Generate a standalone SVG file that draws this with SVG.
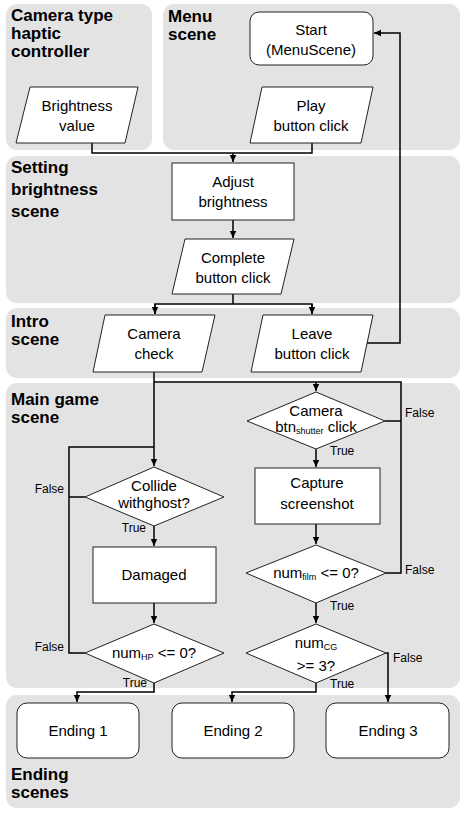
<svg xmlns="http://www.w3.org/2000/svg" width="466" height="813" viewBox="0 0 466 813">
<style>
.panel{fill:#e3e3e3;stroke:none}
.node{fill:#fff;stroke:#222;stroke-width:1}
.lbl{font-family:"Liberation Sans",Arial,sans-serif;font-weight:bold;font-size:17px;fill:#000}
.t{font-family:"Liberation Sans",Arial,sans-serif;font-size:15px;fill:#000;text-anchor:middle}
.s{font-family:"Liberation Sans",Arial,sans-serif;font-size:12px;fill:#000}
.c{fill:none;stroke:#000;stroke-width:1.5}
</style>
<defs>
<marker id="arr" markerWidth="8" markerHeight="8" refX="7" refY="4" orient="auto" markerUnits="userSpaceOnUse"><path d="M0,0.8 L7,4 L0,7.2 z" fill="#000"/></marker>
</defs>
<g id="panels">
<rect class="panel" x="6" y="4" width="146" height="146" rx="11"/>
<rect class="panel" x="163" y="4" width="297" height="146" rx="11"/>
<rect class="panel" x="6" y="156" width="454" height="147" rx="11"/>
<rect class="panel" x="6" y="308" width="454" height="70" rx="11"/>
<rect class="panel" x="6" y="383" width="454" height="305" rx="11"/>
<rect class="panel" x="6" y="695" width="454" height="113" rx="11"/>
<text class="lbl" x="11" y="21">Camera type</text>
<text class="lbl" x="11" y="39">haptic</text>
<text class="lbl" x="11" y="57">controller</text>
<text class="lbl" x="168" y="22">Menu</text>
<text class="lbl" x="168" y="40">scene</text>
<text class="lbl" x="11" y="173">Setting</text>
<text class="lbl" x="11" y="195">brightness</text>
<text class="lbl" x="11" y="217">scene</text>
<text class="lbl" x="11" y="327">Intro</text>
<text class="lbl" x="11" y="345">scene</text>
<text class="lbl" x="11" y="405">Main game</text>
<text class="lbl" x="11" y="423">scene</text>
<text class="lbl" x="11" y="780">Ending</text>
<text class="lbl" x="11" y="798">scenes</text>
</g>
<g id="connectors">
<path class="c" d="M92,143 V153 H312 V143"/>
<path class="c" d="M233,153 V162" marker-end="url(#arr)"/>
<path class="c" d="M233,220 V238" marker-end="url(#arr)"/>
<path class="c" d="M233,294 V304"/>
<path class="c" d="M155,314 V304 H312 V314"/>
<path class="c" d="M155,304 V314" marker-end="url(#arr)"/>
<path class="c" d="M312,304 V314" marker-end="url(#arr)"/>
<path class="c" d="M367,343 H400 V33 H374" marker-end="url(#arr)"/>
<path class="c" d="M154,372 V466" marker-end="url(#arr)"/>
<path class="c" d="M154,382 H401 V573 H386"/>
<path class="c" d="M316,382 V391" marker-end="url(#arr)"/>
<path class="c" d="M385,421 H401"/>
<path class="c" d="M316,449 V467" marker-end="url(#arr)"/>
<path class="c" d="M316,524 V544" marker-end="url(#arr)"/>
<path class="c" d="M316,603 V623" marker-end="url(#arr)"/>
<path class="c" d="M85,497 H69"/>
<path class="c" d="M85,653 H69 V447 H154"/>
<path class="c" d="M154,526 V546" marker-end="url(#arr)"/>
<path class="c" d="M154,603 V623" marker-end="url(#arr)"/>
<path class="c" d="M154,683 V692 H77 V702" marker-end="url(#arr)"/>
<path class="c" d="M316,683 V692 H232 V702" marker-end="url(#arr)"/>
<path class="c" d="M386,653 H388 V702" marker-end="url(#arr)"/>
<text class="s" x="64" y="493" text-anchor="end">False</text>
<text class="s" x="146" y="532" text-anchor="end">True</text>
<text class="s" x="64" y="651" text-anchor="end">False</text>
<text class="s" x="147" y="687" text-anchor="end">True</text>
<text class="s" x="405" y="417">False</text>
<text class="s" x="330" y="455">True</text>
<text class="s" x="405" y="574">False</text>
<text class="s" x="330" y="610">True</text>
<text class="s" x="393" y="662">False</text>
<text class="s" x="330" y="688">True</text>
</g>
<g id="brightness-value">
<polygon class="node" points="30,87 138,87 125,143 16,143"/>
<text class="t" x="77" y="111">Brightness</text>
<text class="t" x="77" y="131">value</text>
</g>
<g id="start">
<rect class="node" x="250" y="12" width="123" height="53" rx="9"/>
<text class="t" x="311" y="35">Start</text>
<text class="t" x="311" y="55">(MenuScene)</text>
</g>
<g id="play">
<polygon class="node" points="262,87 373,87 361,143 250,143"/>
<text class="t" x="311" y="111">Play</text>
<text class="t" x="311" y="131">button click</text>
</g>
<g id="adjust">
<rect class="node" x="172" y="163" width="122" height="57"/>
<text class="t" x="233" y="187">Adjust</text>
<text class="t" x="233" y="207">brightness</text>
</g>
<g id="complete">
<polygon class="node" points="185,239 294,239 281,294 172,294"/>
<text class="t" x="233" y="263">Complete</text>
<text class="t" x="233" y="283">button click</text>
</g>
<g id="camera-check">
<polygon class="node" points="105,315 215,315 202,372 93,372"/>
<text class="t" x="154" y="339">Camera</text>
<text class="t" x="154" y="359">check</text>
</g>
<g id="leave">
<polygon class="node" points="263,315 373,315 361,372 251,372"/>
<text class="t" x="312" y="339">Leave</text>
<text class="t" x="312" y="359">button click</text>
</g>
<g id="camera-btn">
<polygon class="node" points="316,392 385,421 316,449 247,421"/>
<text class="t" x="316" y="416">Camera</text>
<text class="t" x="316" y="432">btn<tspan font-size="9" dy="2">shutter</tspan><tspan dy="-2"> click</tspan></text>
</g>
<g id="capture">
<rect class="node" x="255" y="468" width="125" height="56"/>
<text class="t" x="317" y="488">Capture</text>
<text class="t" x="317" y="509">screenshot</text>
</g>
<g id="num-film">
<polygon class="node" points="316,545 386,573 316,603 246,573"/>
<text class="t" x="316" y="578">num<tspan font-size="9" dy="2">film</tspan><tspan dy="-2"> &lt;= 0?</tspan></text>
</g>
<g id="num-cg">
<polygon class="node" points="316,624 386,653 316,683 246,653"/>
<text class="t" x="316" y="648">num<tspan font-size="9" dy="2">CG</tspan></text>
<text class="t" x="316" y="671">&gt;= 3?</text>
</g>
<g id="collide">
<polygon class="node" points="154,467 224,497 154,526 85,497"/>
<text class="t" x="154" y="491">Collide</text>
<text class="t" x="154" y="508">withghost?</text>
</g>
<g id="damaged">
<rect class="node" x="93" y="547" width="123" height="56"/>
<text class="t" x="154" y="580">Damaged</text>
</g>
<g id="num-hp">
<polygon class="node" points="154,624 224,653 154,683 85,653"/>
<text class="t" x="154" y="658">num<tspan font-size="9" dy="2">HP</tspan><tspan dy="-2"> &lt;= 0?</tspan></text>
</g>
<g id="ending1">
<rect class="node" x="17" y="703" width="122" height="55" rx="10"/>
<text class="t" x="78" y="736">Ending 1</text>
</g>
<g id="ending2">
<rect class="node" x="172" y="703" width="122" height="55" rx="10"/>
<text class="t" x="233" y="736">Ending 2</text>
</g>
<g id="ending3">
<rect class="node" x="326" y="703" width="123" height="55" rx="10"/>
<text class="t" x="388" y="736">Ending 3</text>
</g>
</svg>
